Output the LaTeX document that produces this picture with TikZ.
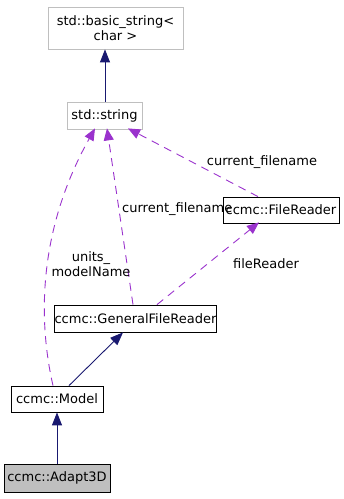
\documentclass[tikz,border=0pt]{standalone}
\usepackage{fontspec}
\setmainfont{DejaVu Sans}
\usetikzlibrary{arrows.meta}
\definecolor{edgeblue}{HTML}{191970}
\definecolor{edgepurple}{HTML}{9A32CD}
\definecolor{boxgray}{HTML}{BFBFBF}
\begin{document}
\begin{tikzpicture}[x=1pt,y=-1pt,
  font=\fontsize{13}{15}\selectfont,
  cls/.style={draw=black,line width=0.8pt,fill=white,inner sep=0pt,align=center},
  extcls/.style={cls,draw=boxgray},
  inherit/.style={draw=edgeblue,line width=0.9pt,-{Triangle[length=13pt,width=10pt,fill=edgeblue]}},
  usage/.style={draw=edgepurple,line width=0.9pt,dash pattern=on 8pt off 6pt,
    -{Triangle[length=12pt,width=10pt,fill=edgepurple]}},
  lbl/.style={inner sep=0pt,align=center}]
\useasboundingbox (0,0) rectangle (344,499);

% classes
\node[extcls,minimum width=135pt,minimum height=42pt] (bs) at (115.5,28) {std::basic\_string<\\char >};
\node[extcls,minimum width=75pt,minimum height=27pt] (str) at (104.5,115.5) {std::string};
\node[cls,minimum width=116pt,minimum height=26pt] (fr) at (281,210) {ccmc::FileReader};
\node[cls,minimum width=157pt,minimum height=27pt] (gfr) at (135.5,318.5) {ccmc::GeneralFileReader};
\node[cls,minimum width=92pt,minimum height=26pt] (model) at (57,399) {ccmc::Model};
\node[cls,fill=boxgray,minimum width=106pt,minimum height=28pt] (adapt) at (57,478) {ccmc::Adapt3D};

% inheritance
\draw[inherit] ([xshift=0.5pt]str.north) -- ([xshift=-10.5pt]bs.south);
\draw[inherit] ([xshift=12pt]model.north) -- ([xshift=-12.5pt]gfr.south);
\draw[inherit] (adapt.north) -- (model.south);

% usage relations
\draw[usage] ([xshift=-23pt]fr.north) -- ([xshift=23.5pt,yshift=1pt]str.south);
\draw[usage] ([xshift=-2.5pt]gfr.north) -- ([xshift=2.5pt,yshift=1pt]str.south);
\draw[usage] ([xshift=-4pt]model.north) .. controls (38,320) and (38,230) .. ([xshift=-9.5pt,yshift=1pt]str.south);
\draw[usage] ([xshift=21.5pt]gfr.north) -- ([xshift=-22pt,yshift=1pt]fr.south);

% labels
\node[lbl] (l1) at (262,162) {current\_filename};
\node[lbl,anchor=west] (l2) at (122,209) {current\_filename};
\node[lbl] (l3) at (91,264) {units\_\\modelName};
\node[lbl] (l4) at (266,264) {fileReader};
\end{tikzpicture}
\end{document}
